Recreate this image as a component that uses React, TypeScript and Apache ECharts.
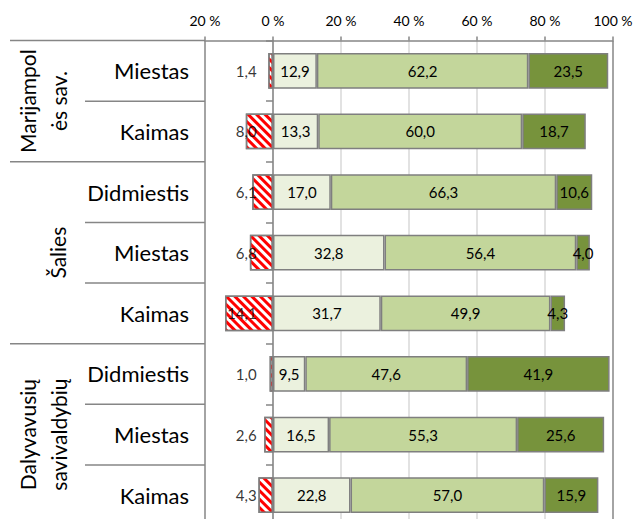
import React, { useEffect, useRef } from 'react';
import * as echarts from 'echarts';

const groups = ['Marijampol\nės sav.', 'Šalies', 'Dalyvavusių\nsavivaldybių'];
const groupSizes = [2, 3, 3];
const rowLabels = ['Miestas', 'Kaimas', 'Didmiestis', 'Miestas', 'Kaimas', 'Didmiestis', 'Miestas', 'Kaimas'];
const negValues = [1.4, 8.0, 6.1, 6.8, 14.1, 1.0, 2.6, 4.3];
const s1Values = [12.9, 13.3, 17.0, 32.8, 31.7, 9.5, 16.5, 22.8];
const s2Values = [62.2, 60.0, 66.3, 56.4, 49.9, 47.6, 55.3, 57.0];
const s3Values = [23.5, 18.7, 10.6, 4.0, 4.3, 41.9, 25.6, 15.9];
const xTicks = [-20, 0, 20, 40, 60, 80, 100];
const negLabelAnchor = -4.8;

const FONT = 'Lato, "Open Sans", sans-serif';
const fmt = (v: number) => Math.abs(v).toFixed(1).replace('.', ',');

export default function App() {
  const ref = useRef<HTMLDivElement>(null);
  useEffect(() => {
    if (!ref.current) return;
    const chart = echarts.init(ref.current, undefined, { renderer: 'svg' });
    const cats = rowLabels.map((l, i) => `${i}|${l}`);
    const border = { borderColor: '#7F7F7F', borderWidth: 1.5 };
    const valLabel = {
      show: true,
      position: 'inside',
      color: '#000',
      fontSize: 15,
      fontFamily: FONT,
      formatter: (p: any) => fmt(p.value),
    };
    chart.setOption({
      animation: false,
      grid: { left: 197, right: 30, top: 32.5, height: 485, containLabel: false },
      xAxis: {
        type: 'value',
        position: 'top',
        min: xTicks[0],
        max: xTicks[xTicks.length - 1],
        interval: 20,
        axisLine: { show: true, lineStyle: { color: '#868686', width: 1.5 } },
        axisTick: { show: true, length: 4, lineStyle: { color: '#868686', width: 1.5 } },
        axisLabel: {
          color: '#000',
          fontSize: 14,
          fontFamily: FONT,
          margin: 13,
          formatter: (v: number) => `${Math.abs(v)} %`,
        },
        splitLine: {
          show: true,
          lineStyle: {
            color: ['#868686', '#D9D9D9', '#D9D9D9', '#D9D9D9', '#D9D9D9', '#D9D9D9', '#868686'],
            width: 1.5,
          },
        },
      },
      yAxis: {
        type: 'category',
        inverse: true,
        data: cats,
        axisLine: { show: true, onZero: true, lineStyle: { color: '#868686', width: 1.5 } },
        axisTick: { show: true, length: 7, lineStyle: { color: '#868686', width: 1.5 } },
        axisLabel: {
          color: '#000',
          fontSize: 22,
          fontFamily: FONT,
          margin: 16,
          formatter: (v: string) => v.split('|')[1],
        },
        splitLine: { show: false },
      },
      series: [
        {
          type: 'bar',
          stack: 'total',
          barCategoryGap: '41%',
          data: negValues.map((v) => -v),
          itemStyle: {
            color: '#FFFFFF',
            ...border,
            decal: {
              symbol: 'rect',
              color: '#FF0000',
              backgroundColor: '#FFFFFF',
              dashArrayX: [1, 0],
              dashArrayY: [3, 2.5],
              symbolSize: 1,
              rotation: Math.PI / 4,
            },
          },
        },
        {
          type: 'bar',
          stack: 'total',
          data: s1Values,
          itemStyle: { color: '#EBF1DE', ...border },
          label: valLabel,
        },
        {
          type: 'bar',
          stack: 'total',
          data: s2Values,
          itemStyle: { color: '#C3D69B', ...border },
          label: valLabel,
        },
        {
          type: 'bar',
          stack: 'total',
          data: s3Values,
          itemStyle: { color: '#77933C', ...border },
          label: valLabel,
        },
        {
          type: 'scatter',
          symbolSize: 0,
          data: negValues.map((v, i) => [negLabelAnchor, i, v]),
          label: {
            show: true,
            position: 'left',
            distance: 0,
            color: '#000',
            fontSize: 15,
            fontFamily: FONT,
            formatter: (p: any) => fmt(p.value[2]),
          },
          z: 10,
        },
      ],
    });

    // table lines and group labels on the left
    const yc = (i: number) => chart.convertToPixel({ yAxisIndex: 0 }, i) as number;
    const band = yc(1) - yc(0);
    const xLeft = chart.convertToPixel({ xAxisIndex: 0 }, xTicks[0]) as number;
    const graphics: any[] = [];
    const lineStyle = { stroke: '#868686', lineWidth: 1.5 };
    let idx = 0;
    const groupXs = [35, 49, 35];
    graphics.push({
      type: 'line',
      shape: { x1: 2, y1: yc(0) - band / 2, x2: xLeft, y2: yc(0) - band / 2 },
      style: lineStyle,
    });
    groupSizes.forEach((size, g) => {
      const start = idx;
      const end = idx + size - 1;
      for (let r = start; r <= end; r++) {
        const y = yc(r) + band / 2;
        const isGroupEnd = r === end;
        graphics.push({
          type: 'line',
          shape: { x1: isGroupEnd ? 2 : 77, y1: y, x2: xLeft, y2: y },
          style: lineStyle,
        });
      }
      const cy = (yc(start) + yc(end)) / 2;
      graphics.push({
        type: 'text',
        x: groupXs[g],
        y: cy,
        rotation: Math.PI / 2,
        style: {
          text: groups[g],
          fill: '#000',
          font: `21px ${FONT}`,
          lineHeight: 31,
          align: 'center',
          verticalAlign: 'middle',
        },
      });
      idx += size;
    });
    chart.setOption({ graphic: graphics });

    return () => chart.dispose();
  }, []);
  return (
    <div style={{ width: 635, height: 511, overflow: 'hidden' }}>
      <div ref={ref} style={{ width: 635, height: 530 }} />
    </div>
  );
}
